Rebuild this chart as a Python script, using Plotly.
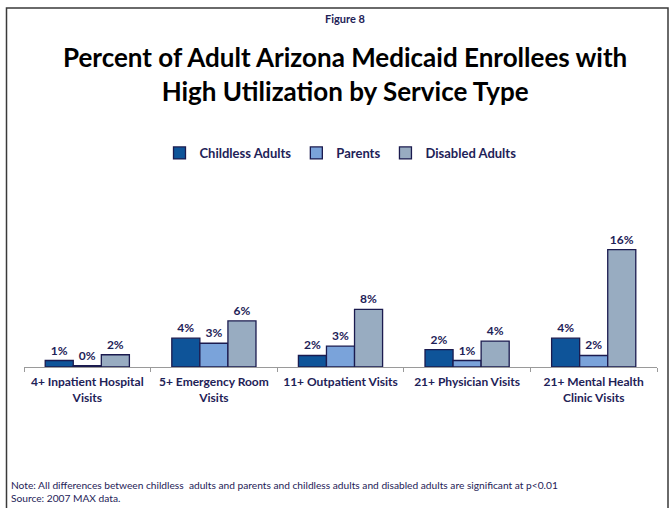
import plotly.graph_objects as go

# Service-type categories (x axis)
categories = [
    "4+ Inpatient Hospital<br>Visits",
    "5+ Emergency Room<br>Visits",
    "11+ Outpatient Visits",
    "21+ Physician Visits",
    "21+ Mental Health<br>Clinic Visits",
]

# Percent of enrollees with high utilization, by group
childless_adults = [0.9, 4.0, 1.6, 2.4, 4.0]
parents = [0.2, 3.3, 2.9, 0.9, 1.6]
disabled_adults = [1.7, 6.4, 8.0, 3.6, 16.3]

series = [
    ("Childless Adults", childless_adults, "#0E5499"),
    ("Parents", parents, "#7AA3DA"),
    ("Disabled Adults", disabled_adults, "#98ACC1"),
]

NAVY = "#1E2257"
FONT = "Lato, 'Open Sans', sans-serif"
W, H = 671, 508
ML, MR, MT, MB = 24, 14, 223, 141


def px_x(px):
    return (px - ML) / (W - ML - MR)


def px_y(py):
    return (H - MB - py) / (H - MT - MB)


fig = go.Figure()
for name, vals, color in series:
    fig.add_trace(go.Bar(
        x=categories,
        y=vals,
        name=f"<b>{name}</b>",
        marker=dict(color=color, line=dict(color="#1B1B4F", width=1.3)),
        texttemplate="<b>%{y:.0f}%</b>",
        textposition="outside",
        cliponaxis=False,
        textfont=dict(family=FONT, size=12, color=NAVY, weight="bold"),
    ))

fig.update_layout(
    width=W,
    height=H,
    margin=dict(l=ML, r=MR, t=MT, b=MB),
    paper_bgcolor="white",
    plot_bgcolor="white",
    barmode="group",
    bargap=0.335,
    bargroupgap=0,
    font=dict(family=FONT, color=NAVY),
    showlegend=True,
    legend=dict(
        orientation="h",
        x=0.5, xanchor="center",
        y=px_y(138), yanchor="top",
        font=dict(family=FONT, size=13, color=NAVY),
        itemwidth=30,
        traceorder="normal",
    ),
    xaxis=dict(
        type="category",
        showline=True,
        linecolor="#9A9A9A",
        linewidth=1,
        ticks="outside",
        tickson="boundaries",
        ticklen=4,
        tickcolor="#9A9A9A",
        ticklabelstandoff=4,
        tickfont=dict(family=FONT, size=12, color=NAVY, weight="bold"),
        showgrid=False,
        fixedrange=True,
    ),
    yaxis=dict(
        range=[0, 20],
        visible=False,
        showgrid=False,
        zeroline=False,
        fixedrange=True,
    ),
)

# Titles and notes
fig.add_annotation(
    text="<b>Figure 8</b>", x=px_x(345), y=px_y(18), xref="paper", yref="paper",
    yanchor="middle", showarrow=False, font=dict(family=FONT, size=11, color=NAVY),
)
fig.add_annotation(
    text="<b>Percent of Adult Arizona Medicaid Enrollees with<br>High Utilization by Service Type</b>",
    x=px_x(345), y=px_y(74), xref="paper", yref="paper", yanchor="middle",
    showarrow=False, font=dict(family=FONT, size=26, color="black"),
)
fig.add_annotation(
    text="Note: All differences between childless  adults and parents and childless adults and disabled adults are significant at p<0.01<br>Source: 2007 MAX data.",
    x=px_x(9), y=px_y(491), xref="paper", yref="paper", xanchor="left", yanchor="middle",
    align="left", showarrow=False, font=dict(family=FONT, size=10.2, color=NAVY),
)

# Frame around the figure
fig.add_shape(
    type="rect", xref="paper", yref="paper",
    x0=px_x(6.5), x1=px_x(668), y0=px_y(515), y1=px_y(8),
    line=dict(color="#3A3A3A", width=1.5), fillcolor="rgba(0,0,0,0)",
)

fig.write_html("out.html")
